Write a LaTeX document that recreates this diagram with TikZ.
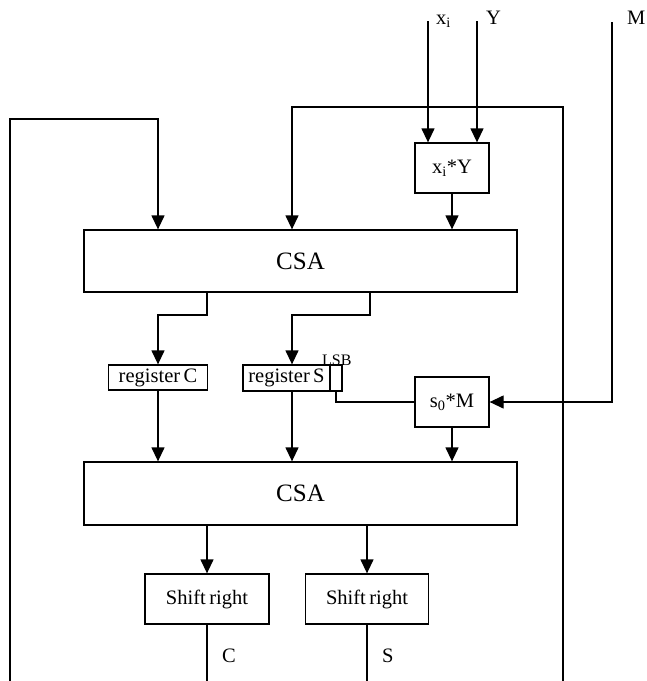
\documentclass[tikz,border=0pt]{standalone}
\usepackage{fontspec}
\setmainfont{Liberation Serif}
\usetikzlibrary{arrows.meta}

\tikzset{
    blk/.style={draw,line width=1.3pt,inner sep=0pt,font=\fontsize{20.5}{24}\selectfont},
    arr/.style={line width=1.3pt,-{Triangle[length=14pt,width=13pt]}},
    wire/.style={line width=1.3pt},
    lbl/.style={inner sep=0pt,anchor=base west,font=\fontsize{20.5}{24}\selectfont},
}

\begin{document}
\begin{tikzpicture}[x=1pt,y=-1pt]
        \useasboundingbox (0,0) rectangle (647,681);
        % blocks
        \node[blk,minimum width=74pt,minimum height=50pt] (mulxy) at (452,168) {x\textsubscript{i}*Y};
        \node[blk,minimum width=433pt,minimum height=62pt,font=\fontsize{25}{30}\selectfont] (csaA) at (300.5,261) {CSA};
        \node[blk,minimum width=99pt,minimum height=25pt] (regC) at (158,377.5) {register\,C};
        \node[blk,minimum width=87pt,minimum height=26pt] (regS) at (286.5,378) {register\,S};
        \node[blk,minimum width=12pt,minimum height=26pt] (lsb) at (336,378) {};
        \node[lbl,font=\fontsize{16}{18}\selectfont] (lsbtxt) at (322,365) {LSB};
        \node[blk,minimum width=74pt,minimum height=50pt] (mulsm) at (452,402) {s\textsubscript{0}*M};
        \node[blk,minimum width=433pt,minimum height=63pt,font=\fontsize{25}{30}\selectfont] (csaB) at (300.5,493.5) {CSA};
        \node[blk,minimum width=124pt,minimum height=50pt] (shiftC) at (207,599) {Shift\,right};
        \node[blk,minimum width=123pt,minimum height=50pt] (shiftS) at (367,599) {Shift\,right};
        % inputs and outputs
        \coordinate (xin) at (428,21);
        \coordinate (yin) at (477,21);
        \coordinate (min) at (612,22);
        \coordinate (cbot) at (10,681);
        \coordinate (sbot) at (563,681);
        \coordinate (cout) at (207,681);
        \coordinate (sout) at (367,681);
        \node[lbl] (xlbl) at (436,24) {x\textsubscript{i}};
        \node[lbl] (ylbl) at (486,24) {Y};
        \node[lbl] (mlbl) at (627,24) {M};
        \node[lbl] (clbl) at (222,662) {C};
        \node[lbl] (slbl) at (382,662) {S};
        % connectors
        \draw[arr] (xin) -- (xin |- mulxy.north);
        \draw[arr] (yin) -- (yin |- mulxy.north);
        \draw[arr] (mulxy.south) -- (mulxy.south |- csaA.north);
        \draw[arr] (cbot) -- (10,119) -- (158,119) -- (158,0 |- csaA.north);
        \draw[arr] (sbot) -- (563,107) -- (292,107) -- (292,0 |- csaA.north);
        \draw[arr] (207,0 |- csaA.south) -- (207,315) -- (158,315) -- (regC.north);
        \draw[arr] (370,0 |- csaA.south) -- (370,315) -- (292,315) -- (292,0 |- regS.north);
        \draw[wire] (lsb.south) |- (mulsm.west);
        \draw[arr] (min) |- (mulsm.east);
        \draw[arr] (regC.south) -- (regC.south |- csaB.north);
        \draw[arr] (292,0 |- regS.south) -- (292,0 |- csaB.north);
        \draw[arr] (mulsm.south) -- (mulsm.south |- csaB.north);
        \draw[arr] (shiftC.north |- csaB.south) -- (shiftC.north);
        \draw[arr] (shiftS.north |- csaB.south) -- (shiftS.north);
        \draw[wire] (shiftC.south) -- (cout);
        \draw[wire] (shiftS.south) -- (sout);
    \end{tikzpicture}
\end{document}
